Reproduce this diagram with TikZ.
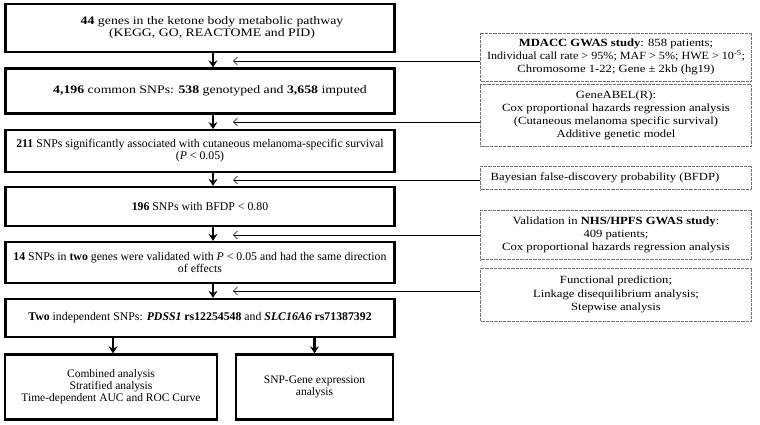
\documentclass[tikz,border=0pt]{standalone}
\usepackage{fontspec}
\setmainfont{Liberation Serif}
\usetikzlibrary{arrows.meta}
\begin{document}
\begin{tikzpicture}[x=1pt,y=-1pt,
 mainbox/.style={draw,line width=2.4pt,minimum width=389pt,align=center,inner sep=0pt,font=\fontsize{11.8}{12.2}\selectfont},
 widebox/.style={mainbox,font=\fontsize{11.5}{12.2}\selectfont\addfontfeature{FakeStretch=1.2}},
 subbox/.style={draw,line width=2.4pt,align=center,inner sep=0pt,font=\fontsize{11.5}{12.2}\selectfont},
 sidebox/.style={draw=black!55,line width=0.7pt,dash pattern=on 0.8pt off 0.5pt,minimum width=271pt,align=center,inner sep=0pt,font=\fontsize{11}{13.2}\selectfont\addfontfeature{FakeStretch=1.15}},
 flow/.style={line width=2.2pt,-{Stealth[length=7pt,width=9pt,inset=2.5pt]}},
 feed/.style={line width=0.7pt,-{Straight Barb[length=4pt,width=8pt,line width=0.7pt]}}]
\useasboundingbox[fill=white] (0,0) rectangle (760,425);
% main chain
\node[widebox,minimum height=48pt] (b1) at (200,28) {\hspace*{24pt}\textbf{44} genes in the ketone body metabolic pathway\\\hspace*{24pt}(KEGG, GO, REACTOME and PID)};
\node[widebox,minimum height=45pt] (b2) at (200,91) {\hspace*{20pt}\textbf{4,196} common SNPs: \textbf{538} genotyped and \textbf{3,658} imputed};
\node[mainbox,minimum height=41.5pt] (b3) at (200,151) {\textbf{211} SNPs significantly associated with cutaneous melanoma-specific survival\\(\textit{P} < 0.05)};
\node[mainbox,minimum height=39pt] (b4) at (200,206.5) {\textbf{196} SNPs with BFDP < 0.80};
\node[mainbox,minimum height=41pt] (b5) at (200,262.5) {\textbf{14} SNPs in \textbf{two} genes were validated with \textit{P} < 0.05 and had the same direction\\of effects};
\node[mainbox,minimum height=38pt] (b6) at (200,318) {\textbf{Two} independent SNPs: \textbf{\textit{PDSS1}} \textbf{rs12254548} and \textbf{\textit{SLC16A6}} \textbf{rs71387392}};
\node[subbox,minimum width=211.5pt,minimum height=65pt] (bl) at (111,387) {Combined analysis\\Stratified analysis\\Time-dependent AUC and ROC Curve};
\node[subbox,minimum width=157pt,minimum height=65pt] (br) at (314.5,387) {SNP-Gene expression\\analysis};
% side boxes
\node[sidebox,minimum height=48pt] (r1) at (616,57) {\textbf{MDACC GWAS study}: 858 patients;\\{\addfontfeature{FakeStretch=1.1}Individual call rate > 95\%; MAF > 5\%; HWE > 10\textsuperscript{-5};}\\Chromosome 1-22; Gene ± 2kb (hg19)};
\node[sidebox,minimum height=61.5pt] (r2) at (616,115.5) {GeneABEL(R):\\Cox proportional hazards regression analysis\\(Cutaneous melanoma specific survival)\\Additive genetic model};
\node[sidebox,minimum height=23.5pt] (r3) at (616,178) {Bayesian false-discovery probability (BFDP)\hspace*{22pt}};
\node[sidebox,minimum height=49.5pt] (r4) at (616,235) {Validation in \textbf{NHS/HPFS GWAS study}:\\409 patients;\\Cox proportional hazards regression analysis};
\node[sidebox,minimum height=53pt] (r5) at (616,294.5) {Functional prediction;\\Linkage disequilibrium analysis;\\Stepwise analysis};
% flow arrows
\draw[flow] ([xshift=13pt]b1.south) -- ([xshift=13pt]b2.north);
\draw[flow] ([xshift=13pt]b2.south) -- ([xshift=13pt]b3.north);
\draw[flow] ([xshift=13pt]b3.south) -- ([xshift=13pt]b4.north);
\draw[flow] ([xshift=13pt]b4.south) -- ([xshift=13pt]b5.north);
\draw[flow] ([xshift=13pt]b5.south) -- ([xshift=13pt]b6.north);
\draw[flow] ([xshift=2pt]bl.north |- b6.south) -- ([xshift=2pt]bl.north);
\draw[flow] (br.north |- b6.south) -- (br.north);
% feed lines
\coordinate (t1) at (233,61);
\coordinate (t2) at (233,122);
\coordinate (t3) at (233,180);
\coordinate (t4) at (233,235);
\coordinate (t5) at (233,291);
\draw[feed] (r1.west |- t1) -- (t1);
\draw[feed] (r2.west |- t2) -- (t2);
\draw[feed] (r3.west |- t3) -- (t3);
\draw[feed] (r4.west |- t4) -- (t4);
\draw[feed] (r5.west |- t5) -- (t5);
\end{tikzpicture}
\end{document}
